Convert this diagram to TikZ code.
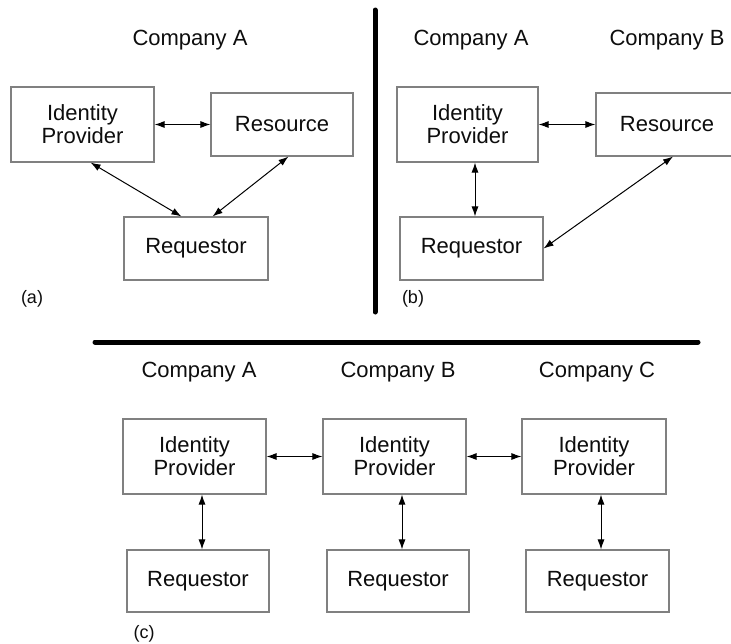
\documentclass[tikz,border=0pt]{standalone}
\usepackage{fontspec}
\setmainfont{Liberation Sans}
\usetikzlibrary{arrows.meta}

\definecolor{boxline}{gray}{0.50}
\definecolor{ink}{gray}{0.05}

\tikzset{
  entity/.style={draw=boxline, line width=1.1pt, fill=white, inner sep=0pt,
    align=center, text=ink, font=\fontsize{22}{23}\selectfont},
  idpbox/.style={entity, minimum width=143pt, minimum height=75pt},
  smallbox/.style={entity, minimum width=142pt, minimum height=63pt},
  company/.style={inner sep=0pt, text=ink, font=\fontsize{22}{23}\selectfont},
  panel/.style={inner sep=0pt, text=ink, font=\fontsize{18}{19}\selectfont},
  link/.style={draw=black, line width=1pt,
    {Latex[length=10pt,width=7pt]}-{Latex[length=10pt,width=7pt]}},
  divider/.style={draw=black, line width=5pt, line cap=round}
}

\begin{document}
\begin{tikzpicture}[x=1pt,y=-1pt]
  \useasboundingbox (0,0) rectangle (731,643);
  \clip (0,0) rectangle (731,643);

  % dividing rules between the three panels
  \coordinate (vtop) at (375,10);
  \coordinate (vbot) at (375,312);
  \coordinate (hleft) at (95,342);
  \coordinate (hright) at (698,342);
  \draw[divider] (vtop) -- (vbot);
  \draw[divider] (hleft) -- (hright);

  % ---- panel (a): single company
  \node[company] (coA1) at (190,40) {Company A};
  \node[idpbox] (idpA) at (82.5,124.5) {Identity\\Provider};
  \node[smallbox] (resA) at (282,124.5) {Resource};
  \node[smallbox, minimum width=144pt] (reqA) at (196,248.5) {Requestor};
  \node[panel] (labA) at (32,299) {(a)};

  \draw[link] (idpA.east) -- (resA.west);
  \draw[link] ([xshift=-64pt]idpA.south east) -- ([xshift=58pt]reqA.north west);
  \draw[link] ([xshift=78pt]resA.south west) -- ([xshift=-56pt]reqA.north east);

  % ---- panel (b): two companies
  \node[company] (coB1) at (471,40) {Company A};
  \node[company] (coB2) at (667,40) {Company B};
  \node[idpbox, minimum width=141pt] (idpB) at (467.5,124.5) {Identity\\Provider};
  \node[smallbox] (resB) at (667,124.5) {Resource};
  \node[smallbox, minimum width=143pt] (reqB) at (471.5,248.5) {Requestor};
  \node[panel] (labB) at (413,299) {(b)};

  \draw[link] (idpB.east) -- (resB.west);
  \draw[link] ([xshift=7.5pt]idpB.south) -- ([xshift=3.5pt]reqB.north);
  \draw[link] ([xshift=6pt]resB.south) -- (reqB.east);

  % ---- panel (c): three federated companies
  \node[company] (coC1) at (199,372) {Company A};
  \node[company] (coC2) at (398,372) {Company B};
  \node[company] (coC3) at (597,372) {Company C};

  \node[idpbox] (idpC1) at (194.5,456.5) {Identity\\Provider};
  \node[idpbox] (idpC2) at (394.5,456.5) {Identity\\Provider};
  \node[idpbox, minimum width=144pt] (idpC3) at (594,456.5) {Identity\\Provider};

  \node[smallbox, minimum height=62pt] (reqC1) at (198,581) {Requestor};
  \node[smallbox, minimum height=62pt] (reqC2) at (398,581) {Requestor};
  \node[smallbox, minimum height=62pt, minimum width=143pt] (reqC3) at (597.5,581) {Requestor};
  \node[panel] (labC) at (144,634) {(c)};

  \draw[link] (idpC1.east) -- (idpC2.west);
  \draw[link] (idpC2.east) -- (idpC3.west);
  \draw[link] ([xshift=7.5pt]idpC1.south) -- ([xshift=4pt]reqC1.north);
  \draw[link] ([xshift=7.5pt]idpC2.south) -- ([xshift=4pt]reqC2.north);
  \draw[link] ([xshift=7pt]idpC3.south) -- ([xshift=3.5pt]reqC3.north);
\end{tikzpicture}
\end{document}
